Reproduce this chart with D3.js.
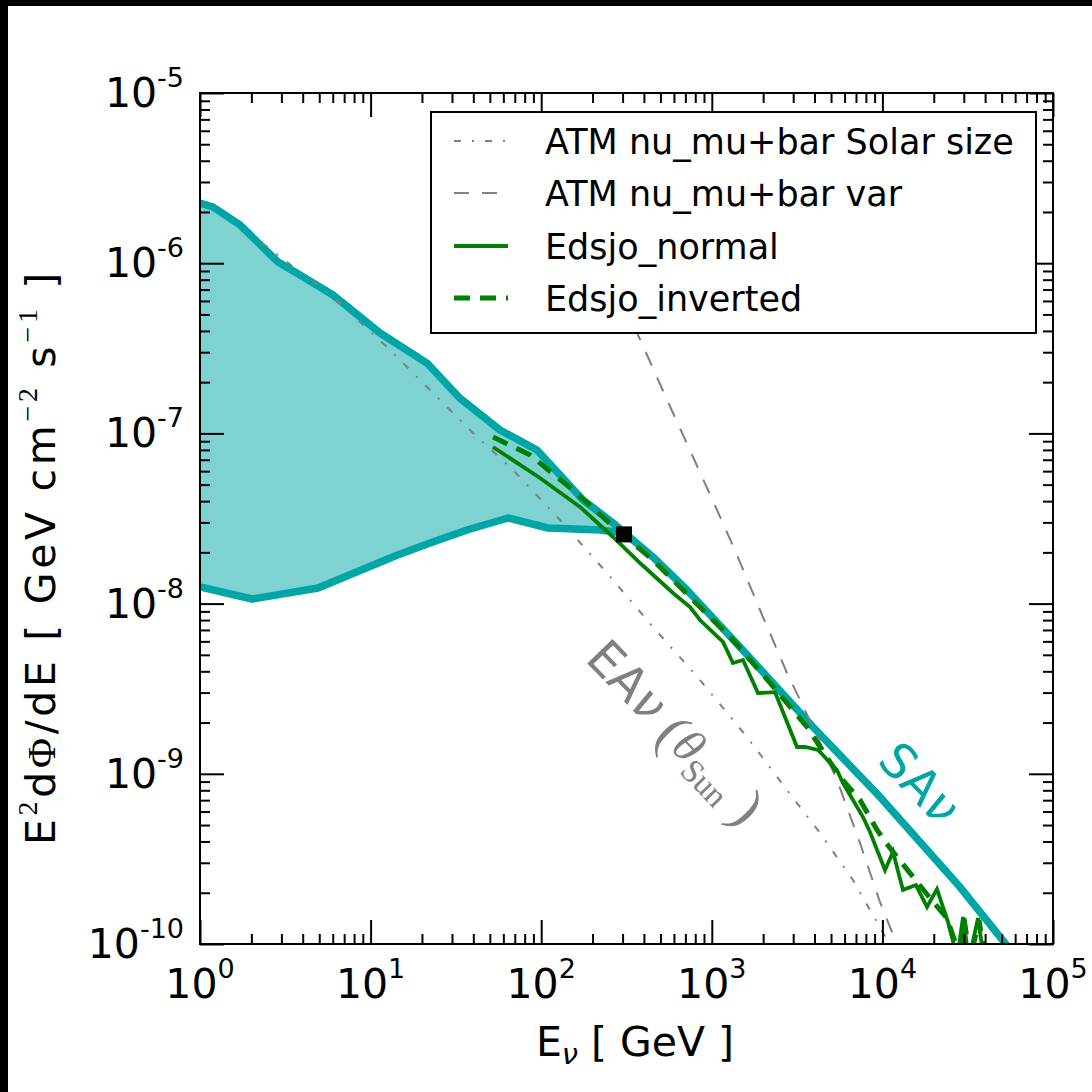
<!DOCTYPE html>
<html><head><meta charset="utf-8">
<script src="https://cdn.jsdelivr.net/npm/d3@7"></script>
<style>
body{margin:0;background:#fff}
svg{display:block}
text{font-family:"DejaVu Sans",sans-serif}
</style>
</head><body>
<svg id="c" width="1092" height="1092"></svg>
<script>
// ---------------- data ----------------
const xTickExp = [0, 1, 2, 3, 4, 5];
const yTickExp = [-10, -9, -8, -7, -6, -5];

// SA nu band (upper edge continues as the SA nu line)
const saUpperE = [1, 1.192, 1.716, 2.866, 3.605, 6.02, 11.36, 21.41, 33.42, 57.35, 94.5, 175.8, 263.6, 305.7, 452.2, 715.5, 1463, 3920, 9680, 28500, 46960, 73320];
const saUpperV = [2.258e-6, 2.139e-6, 1.677e-6, 1.016e-6, 8.88e-7, 6.50e-7, 3.89e-7, 2.59e-7, 1.61e-7, 1.047e-7, 7.99e-8, 4.06e-8, 2.98e-8, 2.62e-8, 1.878e-8, 1.202e-8, 5.56e-9, 1.884e-9, 7.31e-10, 2.16e-10, 1.16e-10, 6.58e-11];
const saLowerE = [1, 2.018, 4.916, 13.90, 22.29, 36.74, 63.88, 109.6, 221.2, 305.7];
const saLowerV = [1.252e-8, 1.064e-8, 1.235e-8, 1.905e-8, 2.27e-8, 2.706e-8, 3.184e-8, 2.781e-8, 2.706e-8, 2.599e-8];

// ATM nu_mu+bar Solar size (dash-dot)
const atmSolarE = [2.309, 6.02, 12.48, 24.50, 39.83, 68.35, 128.9, 243.0, 452.2, 852.8, 1608, 2760, 4307, 6723, 10640, 11540];
const atmSolarV = [1.314e-6, 6.33e-7, 3.218e-7, 1.637e-7, 1.006e-7, 6.10e-8, 3.10e-8, 1.513e-8, 7.29e-9, 3.556e-9, 1.645e-9, 8.03e-10, 4.49e-10, 2.377e-10, 1.056e-10, 8.6e-11];

// ATM nu_mu+bar var (dashed)
const atmVarE = [309.9, 369.4, 592.4, 776, 1073, 1405, 1916, 2760, 3920, 5418, 7390, 9680, 11380, 12340];
const atmVarV = [6.08e-7, 3.785e-7, 1.318e-7, 7.27e-8, 3.548e-8, 1.930e-8, 9.17e-9, 3.91e-9, 1.884e-9, 9.20e-10, 3.92e-10, 1.765e-10, 1.176e-10, 9.2e-11];

// Edsjo_normal (solid)
const edsNormE = [52.19, 98.4, 168.8, 263.6, 379.5, 592.4, 745.2, 852.8, 1163, 1331, 1524, 1866, 2347, 3159, 3518, 4194, 5418, 5875, 7696, 8459, 10360, 11540, 13200, 15730, 18260, 20890, 24240, 26280, 27370, 29690, 32180, 36340, 39400];
const edsNormV = [8.32e-8, 5.47e-8, 3.70e-8, 2.462e-8, 1.732e-8, 1.155e-8, 9.55e-9, 8.01e-9, 5.95e-9, 4.48e-9, 4.66e-9, 2.98e-9, 3.02e-9, 1.437e-9, 1.437e-9, 1.380e-9, 1.053e-9, 8.83e-10, 5.57e-10, 4.55e-10, 2.72e-10, 3.47e-10, 2.08e-10, 2.22e-10, 1.65e-10, 2.10e-10, 1.346e-10, 9.86e-11, 8.05e-11, 1.44e-10, 8.05e-11, 1.42e-10, 8.05e-11];

// Edsjo_inverted (dashed)
const edsInvE = [52.19, 85.99, 153.6, 278.2, 452.2, 745.2, 1331, 2194, 3614, 5643, 7390, 9297, 11080, 14520, 19010, 23910, 26650, 28120, 30090, 32630, 36830, 39940];
const edsInvV = [9.52e-8, 7.47e-8, 4.65e-8, 2.71e-8, 1.804e-8, 1.093e-8, 6.11e-9, 3.42e-9, 1.884e-9, 9.58e-10, 7.02e-10, 4.68e-10, 3.66e-10, 2.61e-10, 1.86e-10, 1.42e-10, 1.03e-10, 8.05e-11, 1.42e-10, 8.05e-11, 1.38e-10, 8.05e-11];

// black square marker
const markerE = [305.7];
const markerV = [2.55e-8];

const legendLabels = ["ATM nu_mu+bar Solar size", "ATM nu_mu+bar var", "Edsjo_normal", "Edsjo_inverted"];

// ---------------- drawing ----------------
const TEAL = "#00a6a6", GREEN = "#008000", GRAY = "#808080";
const svg = d3.select("#c");
svg.append("rect").attr("width",1092).attr("height",1092).attr("fill","#fff");
svg.append("rect").attr("x",0).attr("y",0).attr("width",1092).attr("height",6).attr("fill","#000");
svg.append("rect").attr("x",0).attr("y",0).attr("width",8).attr("height",1092).attr("fill","#000");

const L = 200, R = 1053, T = 93, B = 944;
const x = d3.scaleLog().domain([1, 1e5]).range([L, R]);
const y = d3.scaleLog().domain([1e-10, 1e-5]).range([B, T]);

svg.append("clipPath").attr("id","clip").append("rect")
  .attr("x",L).attr("y",T).attr("width",R-L).attr("height",B-T);

const zip = (a,b) => a.map((v,i)=>[v,b[i]]);
const line = d3.line().x(d=>x(d[0])).y(d=>y(d[1]));
const plot = svg.append("g").attr("clip-path","url(#clip)");

const upper = zip(saUpperE, saUpperV);
const lower = zip(saLowerE, saLowerV);
const joinE = saLowerE[saLowerE.length-1];
const bandPts = upper.filter(d=>d[0] < joinE).concat(lower.slice().reverse());
plot.append("path").attr("d", line(bandPts)+"Z")
  .attr("fill",TEAL).attr("fill-opacity",0.5).attr("stroke","none");

plot.append("path").attr("d", line(upper)).attr("fill","none")
  .attr("stroke",TEAL).attr("stroke-width",7.5).attr("stroke-linejoin","round");
plot.append("path").attr("d", line(lower)).attr("fill","none")
  .attr("stroke",TEAL).attr("stroke-width",7.5).attr("stroke-linejoin","round");

plot.append("path").attr("d", line(zip(atmSolarE, atmSolarV))).attr("fill","none")
  .attr("stroke",GRAY).attr("stroke-width",2).attr("stroke-dasharray","7,11,2,11");
plot.append("path").attr("d", line(zip(atmVarE, atmVarV))).attr("fill","none")
  .attr("stroke",GRAY).attr("stroke-width",2).attr("stroke-dasharray","15,13");

plot.append("path").attr("d", line(zip(edsNormE, edsNormV))).attr("fill","none")
  .attr("stroke",GREEN).attr("stroke-width",3.8).attr("stroke-linejoin","miter");
plot.append("path").attr("d", line(zip(edsInvE, edsInvV))).attr("fill","none")
  .attr("stroke",GREEN).attr("stroke-width",5).attr("stroke-dasharray","16,10");

plot.selectAll("rect.mk").data(zip(markerE, markerV)).enter().append("rect")
  .attr("class","mk")
  .attr("x",d=>x(d[0])-8).attr("y",d=>y(d[1])-8).attr("width",16).attr("height",16)
  .attr("fill","#000");

// ---------- axes ----------
const majX = xTickExp.map(e=>Math.pow(10,e));
const majY = yTickExp.map(e=>Math.pow(10,e));
const minX = [], minY = [];
for (let e=0;e<5;e++) for (let m=2;m<10;m++) minX.push(m*Math.pow(10,e));
for (let e=-10;e<-5;e++) for (let m=2;m<10;m++) minY.push(m*Math.pow(10,e));

function styleAxis(g){ g.select(".domain").remove(); g.selectAll("line").attr("stroke","#000").attr("stroke-width",2); g.selectAll("text").remove(); }
svg.append("g").attr("transform",`translate(0,${B})`).call(d3.axisBottom(x).tickValues(majX).tickSize(-24).tickFormat("")).call(styleAxis);
svg.append("g").attr("transform",`translate(0,${B})`).call(d3.axisBottom(x).tickValues(minX).tickSize(-10).tickFormat("")).call(styleAxis);
svg.append("g").attr("transform",`translate(0,${T})`).call(d3.axisTop(x).tickValues(majX).tickSize(-24).tickFormat("")).call(styleAxis);
svg.append("g").attr("transform",`translate(0,${T})`).call(d3.axisTop(x).tickValues(minX).tickSize(-10).tickFormat("")).call(styleAxis);
svg.append("g").attr("transform",`translate(${L},0)`).call(d3.axisLeft(y).tickValues(majY).tickSize(-24).tickFormat("")).call(styleAxis);
svg.append("g").attr("transform",`translate(${L},0)`).call(d3.axisLeft(y).tickValues(minY).tickSize(-10).tickFormat("")).call(styleAxis);
svg.append("g").attr("transform",`translate(${R},0)`).call(d3.axisRight(y).tickValues(majY).tickSize(-24).tickFormat("")).call(styleAxis);
svg.append("g").attr("transform",`translate(${R},0)`).call(d3.axisRight(y).tickValues(minY).tickSize(-10).tickFormat("")).call(styleAxis);

svg.append("rect").attr("x",L).attr("y",T).attr("width",R-L).attr("height",B-T)
  .attr("fill","none").attr("stroke","#000").attr("stroke-width",2);

// tick labels
xTickExp.forEach(e=>{
  const t = svg.append("text").attr("x",x(Math.pow(10,e))).attr("y",998)
    .attr("text-anchor","middle").attr("font-size",41).attr("fill","#000");
  t.append("tspan").text("10");
  t.append("tspan").attr("font-size",27).attr("dy",-20).text(String(e));
});
yTickExp.forEach(e=>{
  const t = svg.append("text").attr("x",184).attr("y",y(Math.pow(10,e))+14)
    .attr("text-anchor","end").attr("font-size",41).attr("fill","#000");
  t.append("tspan").text("10");
  t.append("tspan").attr("font-size",27).attr("dy",-20).text(String(e));
});

// axis titles
const xl = svg.append("text").attr("x",635).attr("y",1056).attr("text-anchor","middle")
  .attr("font-size",41).attr("fill","#000");
xl.append("tspan").text("E");
xl.append("tspan").attr("font-size",29).attr("font-style","italic").attr("dy",8).text("ν");
xl.append("tspan").attr("dy",-8).text(" [ GeV ]");

const yl = svg.append("text").attr("transform","translate(55,557) rotate(-90)")
  .attr("text-anchor","middle").attr("font-size",41).attr("fill","#000")
  .style("letter-spacing","3.7px");
yl.append("tspan").text("E");
yl.append("tspan").attr("font-size",28).attr("font-family","Liberation Serif").attr("dy",-18).text("2");
yl.append("tspan").attr("dy",18).text("d");
yl.append("tspan").attr("font-family","Liberation Serif").text("Φ");
yl.append("tspan").text("/dE [ GeV cm");
yl.append("tspan").attr("font-size",28).attr("font-family","Liberation Serif").attr("dy",-18).text("−2");
yl.append("tspan").attr("dy",18).text(" s");
yl.append("tspan").attr("font-size",28).attr("font-family","Liberation Serif").attr("dy",-18).text("−1");
yl.append("tspan").attr("dy",18).text(" ]");

// annotations
const ea = svg.append("text").attr("transform","translate(584,660) rotate(46)")
  .attr("font-size",48).attr("fill",GRAY);
ea.append("tspan").text("EA");
ea.append("tspan").attr("font-style","italic").text("ν");
ea.append("tspan").attr("font-family","Liberation Serif").attr("font-size",56).attr("dy",4).text(" (");
ea.append("tspan").attr("font-family","Liberation Serif").attr("font-style","italic").attr("dy",-4).text("θ");
ea.append("tspan").attr("font-family","Liberation Serif").attr("font-size",33).attr("dy",10).text("Sun");
ea.append("tspan").attr("font-family","Liberation Serif").attr("font-size",56).attr("dy",-6).text(" )");

const sa = svg.append("text").attr("transform","translate(876,762) rotate(46)")
  .attr("font-size",48).attr("fill",TEAL);
sa.append("tspan").text("SA");
sa.append("tspan").attr("font-style","italic").text("ν");

// legend
const lg = svg.append("g");
lg.append("rect").attr("x",431).attr("y",112).attr("width",605).attr("height",221)
  .attr("fill","#fff").attr("stroke","#000").attr("stroke-width",2);
const rowsY = [141, 193, 246, 298];
const hStyles = [
  {c:GRAY, w:2, d:"7,11,2,11"},
  {c:GRAY, w:2, d:"15,13"},
  {c:GREEN, w:4, d:null},
  {c:GREEN, w:5, d:"16,10"}
];
legendLabels.forEach((lab,i)=>{
  const s = hStyles[i];
  const ln = lg.append("line").attr("x1",454).attr("x2",508).attr("y1",rowsY[i]).attr("y2",rowsY[i])
    .attr("stroke",s.c).attr("stroke-width",s.w);
  if (s.d) ln.attr("stroke-dasharray",s.d);
  lg.append("text").attr("x",545).attr("y",rowsY[i]+13).attr("font-size",35).attr("fill","#000").text(lab);
});
</script>
</body></html>
